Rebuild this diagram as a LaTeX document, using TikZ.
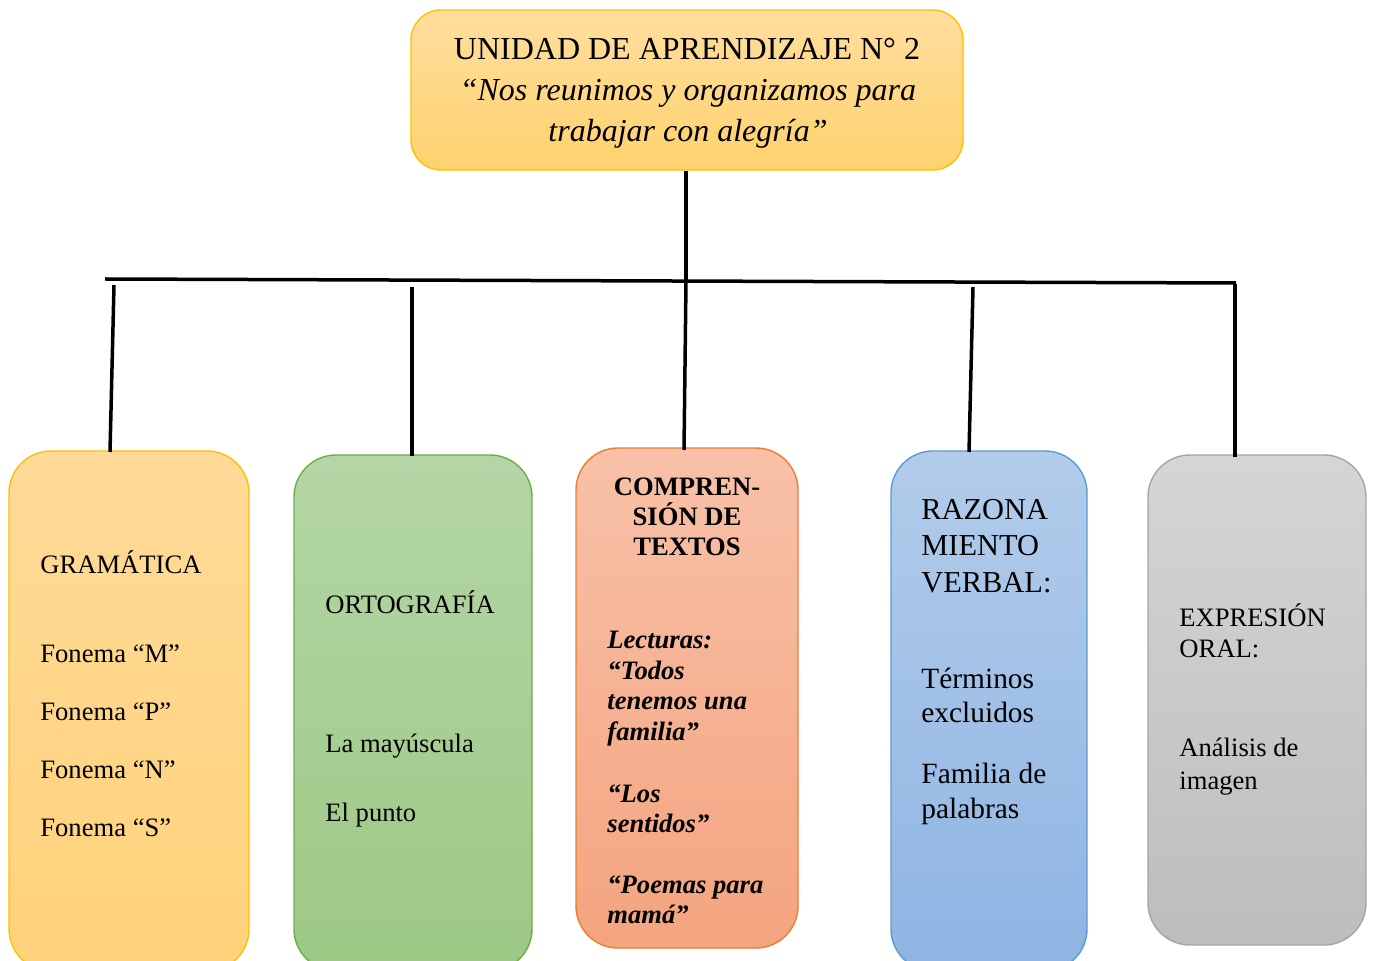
\documentclass[tikz,border=0pt]{standalone}
\usepackage{fontspec}
\setmainfont{Liberation Serif}
\definecolor{topT}{HTML}{FFDE9E}
\definecolor{topB}{HTML}{FFD26E}
\definecolor{topD}{HTML}{FFC000}
\definecolor{graT}{HTML}{FFDA98}
\definecolor{graB}{HTML}{FFD27A}
\definecolor{graD}{HTML}{FFC000}
\definecolor{ortT}{HTML}{B4D6A6}
\definecolor{ortB}{HTML}{9CC884}
\definecolor{ortD}{HTML}{70AD47}
\definecolor{comT}{HTML}{F8C1A8}
\definecolor{comB}{HTML}{F4A47F}
\definecolor{comD}{HTML}{ED7D31}
\definecolor{razT}{HTML}{B2CCEA}
\definecolor{razB}{HTML}{8EB4E3}
\definecolor{razD}{HTML}{5B9BD5}
\definecolor{expT}{HTML}{D5D5D5}
\definecolor{expB}{HTML}{BDBDBD}
\definecolor{expD}{HTML}{A5A5A5}
\begin{document}
\begin{tikzpicture}[x=0.5pt,y=-0.5pt,
  box/.style={rectangle, rounded corners=21pt, line width=0.7pt, inner sep=0pt},
  ln/.style={line width=1.75pt, black},
  tl/.style={anchor=base west, inner sep=0pt, font=\fontsize{13.3}{16}\selectfont},
  tc/.style={anchor=base, inner sep=0pt, font=\fontsize{13.3}{16}\selectfont\bfseries},
  tli/.style={tl, font=\fontsize{13.3}{16}\selectfont\bfseries\itshape},
  tr/.style={anchor=base west, inner sep=0pt, font=\fontsize{14.7}{18}\selectfont},
  trh/.style={anchor=base west, inner sep=0pt, font=\fontsize{15.2}{18}\selectfont},
  tt/.style={anchor=base, inner sep=0pt, font=\fontsize{16}{20}\selectfont},
  tti/.style={tt, font=\fontsize{16}{20}\selectfont\itshape}]
\clip (0,0) rectangle (1374,961);
\fill[white] (0,0) rectangle (1374,961);

% boxes
\node[box, draw=topD, top color=topT, bottom color=topB, rounded corners=15pt,
  minimum width=276pt, minimum height=80pt] (top) at (687,90) {};
\node[box, draw=graD, top color=graT, bottom color=graB,
  minimum width=120pt, minimum height=260pt] (gram) at (129,711) {};
\node[box, draw=ortD, top color=ortT, bottom color=ortB,
  minimum width=119pt, minimum height=258pt] (orto) at (413,713) {};
\node[box, draw=comD, top color=comT, bottom color=comB,
  minimum width=111pt, minimum height=250pt] (comp) at (687,698) {};
\node[box, draw=razD, top color=razT, bottom color=razB,
  minimum width=98pt, minimum height=260pt] (razo) at (989,711) {};
\node[box, draw=expD, top color=expT, bottom color=expB,
  minimum width=109pt, minimum height=245pt] (expr) at (1257,700) {};

% connectors
\coordinate (busL) at (105,279);
\coordinate (busR) at (1236,283);
\coordinate (busC) at (686,281);
\coordinate (b1) at (114,285);
\coordinate (b2) at (412,287);
\coordinate (b4) at (973,287);
\coordinate (b5) at (1235,284);
\coordinate (e1) at (110,452);
\coordinate (e2) at (412,456);
\coordinate (e3) at (684,450);
\coordinate (e4) at (969,452);
\coordinate (e5) at (1235,457);
\draw[ln] (top.south -| busC) -- (busC);
\draw[ln] (busL) -- (busR);
\draw[ln] (b1) -- (e1);
\draw[ln] (b2) -- (e2);
\draw[ln] (busC) -- (e3);
\draw[ln] (b4) -- (e4);
\draw[ln] (b5) -- (e5);

% top text
\node[tt] (t1) at (687,60) {UNIDAD DE APRENDIZAJE N° 2};
\node[tti] (t2) at (688,101) {“Nos reunimos y organizamos para};
\node[tti] (t3) at (688,142) {trabajar con alegría”};

% gramatica
\node[tl] (g0) at (40,574) {GRAMÁTICA};
\node[tl] (g1) at (40,662) {Fonema “M”};
\node[tl] (g2) at (40,720) {Fonema “P”};
\node[tl] (g3) at (40,778) {Fonema “N”};
\node[tl] (g4) at (40,836) {Fonema “S”};

% ortografia
\node[tl] (o0) at (325,613) {ORTOGRAFÍA};
\node[tl] (o1) at (325,752) {La mayúscula};
\node[tl] (o2) at (325,821) {El punto};

% comprension
\node[tc] (c0) at (687,496) {COMPREN-};
\node[tc] (c1) at (687,526) {SIÓN DE};
\node[tc] (c2) at (687,556) {TEXTOS};
\node[tli] (c3) at (607,648) {Lecturas:};
\node[tli] (c4) at (607,679) {“Todos};
\node[tli] (c5) at (607,709) {tenemos una};
\node[tli] (c6) at (607,740) {familia”};
\node[tli] (c7) at (607,802) {“Los};
\node[tli] (c8) at (607,832) {sentidos”};
\node[tli] (c9) at (607,893) {“Poemas para};
\node[tli] (c10) at (607,923) {mamá”};

% razonamiento
\node[trh] (r0) at (921,520) {RAZONA};
\node[trh] (r1) at (921,556) {MIENTO};
\node[trh] (r2) at (921,592) {VERBAL:};
\node[tr] (r3) at (921,688) {Términos};
\node[tr] (r4) at (921,722) {excluidos};
\node[tr] (r5) at (921,783) {Familia de};
\node[tr] (r6) at (921,818) {palabras};

% expresion
\node[tl] (x0) at (1179,626) {EXPRESIÓN};
\node[tl] (x1) at (1179,657) {ORAL:};
\node[tl] (x2) at (1179,756) {Análisis de};
\node[tl] (x3) at (1179,789) {imagen};
\end{tikzpicture}
\end{document}
